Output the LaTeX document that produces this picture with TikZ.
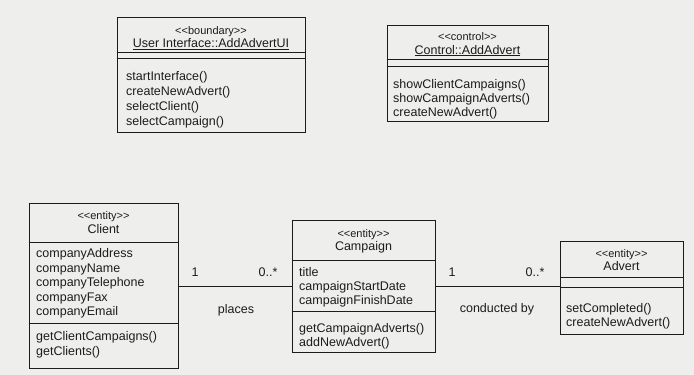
\documentclass[tikz,border=0pt]{standalone}
\usepackage{fontspec}
\setmainfont{Liberation Sans}
\definecolor{paper}{RGB}{238,238,236}
\definecolor{ink}{RGB}{28,28,28}
% left-aligned list of members whose baseline is that of its first line
\newcommand{\memberlist}[1]{\begin{tabular}[t]{@{}l@{}}#1\end{tabular}}
% stereotype in double angle brackets, kept as two separate < and > signs
\newcommand{\stype}[1]{<{}<#1>{}>}
\begin{document}
\begin{tikzpicture}[x=1pt,y=-1pt,
  classbox/.style={draw=ink, line width=0.9pt, rectangle, inner sep=0pt},
  divider/.style={draw=ink, line width=0.9pt},
  assoc/.style={draw=ink, line width=0.9pt},
  txt/.style={text=ink, inner sep=0pt, font=\fontsize{12.5}{14.5}\selectfont},
  stereo/.style={txt, font=\fontsize{11}{14}\selectfont, anchor=base},
  cname/.style={txt, anchor=base},
  members/.style={txt, anchor=base west},
  mult/.style={txt, anchor=base}]
  \fill[paper] (0,0) rectangle (694,375);
  \useasboundingbox (0,0) rectangle (694,375);

  % ---- boundary class
  \node[classbox, minimum width=188, minimum height=115] (ui) at (211,74.5) {};
  \node[stereo] (uiS) at (211,34.5) {\stype{boundary}};
  \node[cname] (uiN) at (211,47.5) {\underline{User Interface::AddAdvertUI}};
  \draw[divider] (ui.west |- 0,52) -- (ui.east |- 0,52);
  \draw[divider] (ui.west |- 0,58) -- (ui.east |- 0,58);
  \node[members, font=\fontsize{12.5}{15}\selectfont] (uiOps) at (126,80.5)
    {\memberlist{startInterface()\\createNewAdvert()\\selectClient()\\selectCampaign()}};

  % ---- control class
  \node[classbox, minimum width=161, minimum height=96] (ctrl) at (467.5,73) {};
  \node[stereo] (ctrlS) at (467.5,40.5) {\stype{control}};
  \node[cname] (ctrlN) at (467.5,54) {\underline{Control::AddAdvert}};
  \draw[divider] (ctrl.west |- 0,59) -- (ctrl.east |- 0,59);
  \draw[divider] (ctrl.west |- 0,66) -- (ctrl.east |- 0,66);
  \node[members, font=\fontsize{12.5}{14}\selectfont] (ctrlOps) at (393,88.5)
    {\memberlist{showClientCampaigns()\\showCampaignAdverts()\\createNewAdvert()}};

  % ---- Client
  \node[classbox, minimum width=149, minimum height=165] (client) at (103.5,286) {};
  \node[stereo] (clientS) at (103.5,219.5) {\stype{entity}};
  \node[cname] (clientN) at (103.5,233.5) {Client};
  \draw[divider] (client.west |- 0,242) -- (client.east |- 0,242);
  \node[members] (clientAttr) at (36,257.5)
    {\memberlist{companyAddress\\companyName\\companyTelephone\\companyFax\\companyEmail}};
  \draw[divider] (client.west |- 0,323) -- (client.east |- 0,323);
  \node[members] (clientOps) at (36,340.5)
    {\memberlist{getClientCampaigns()\\getClients()}};

  % ---- Campaign
  \node[classbox, minimum width=143, minimum height=132] (campaign) at (363.5,286) {};
  \node[stereo] (campaignS) at (363.5,237.5) {\stype{entity}};
  \node[cname] (campaignN) at (363.5,250.5) {Campaign};
  \draw[divider] (campaign.west |- 0,260) -- (campaign.east |- 0,260);
  \node[members, font=\fontsize{12.5}{14}\selectfont] (campaignAttr) at (299,276.5)
    {\memberlist{title\\campaignStartDate\\campaignFinishDate}};
  \draw[divider] (campaign.west |- 0,311) -- (campaign.east |- 0,311);
  \node[members, font=\fontsize{12.5}{14}\selectfont] (campaignOps) at (299,332.5)
    {\memberlist{getCampaignAdverts()\\addNewAdvert()}};

  % ---- Advert
  \node[classbox, minimum width=123, minimum height=93] (advert) at (621.5,287.5) {};
  \node[stereo] (advertS) at (621.5,257.5) {\stype{entity}};
  \node[cname] (advertN) at (621.5,270.5) {Advert};
  \draw[divider] (advert.west |- 0,277) -- (advert.east |- 0,277);
  \draw[divider] (advert.west |- 0,287) -- (advert.east |- 0,287);
  \node[members, font=\fontsize{12.5}{14}\selectfont] (advertOps) at (566,312.5)
    {\memberlist{setCompleted()\\createNewAdvert()}};

  % ---- associations
  \draw[assoc] (client.east) -- (campaign.west);
  \node[mult] (placesOne) at (195,276.5) {1};
  \node[mult] (placesMany) at (268,276) {0..*};
  \node[mult] (placesLbl) at (236,313.5) {places};

  \draw[assoc] (campaign.east) -- (campaign.east -| advert.west);
  \node[mult] (conductOne) at (452,276.5) {1};
  \node[mult] (conductMany) at (535,276) {0..*};
  \node[mult] (conductLbl) at (497,312.5) {conducted by};
\end{tikzpicture}
\end{document}
